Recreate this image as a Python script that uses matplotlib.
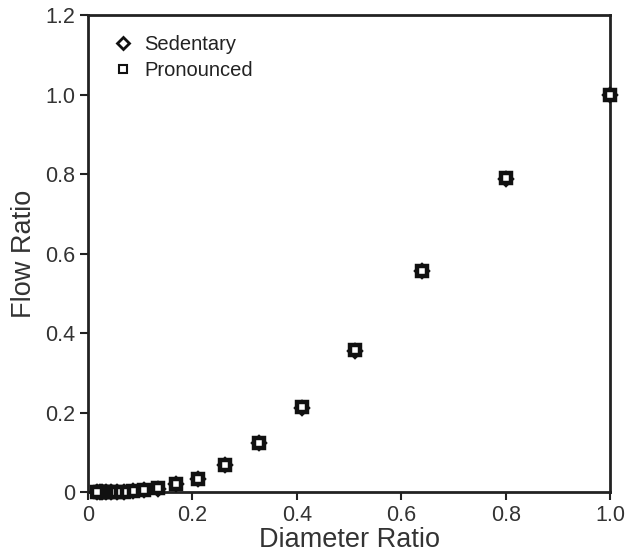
import matplotlib.pyplot as plt
from matplotlib.lines import Line2D

plt.rcParams['font.family'] = ['Liberation Sans', 'DejaVu Sans']

diam = [1.0, 0.8, 0.64, 0.512, 0.41, 0.328, 0.262, 0.21, 0.168, 0.134,
        0.107, 0.086, 0.069, 0.055, 0.044, 0.035, 0.028, 0.023, 0.018]
sedentary = [1.0, 0.788, 0.556, 0.356, 0.212, 0.123, 0.068, 0.033, 0.02, 0.008,
             0.004, 0.002, 0.001, 0.0005, 0.0003, 0.0002, 0.0001, 0.0, 0.0]
pronounced = [1.0, 0.790, 0.557, 0.357, 0.213, 0.124, 0.069, 0.034, 0.021, 0.009,
              0.005, 0.003, 0.001, 0.0005, 0.0003, 0.0002, 0.0001, 0.0, 0.0]

xticks = [0, 0.2, 0.4, 0.6, 0.8, 1.0]
xticklabels = ['0', '0.2', '0.4', '0.6', '0.8', '1.0']
yticks = [0, 0.2, 0.4, 0.6, 0.8, 1.0, 1.2]
yticklabels = ['0', '0.2', '0.4', '0.6', '0.8', '1.0', '1.2']

fig = plt.figure(figsize=(6.41, 5.56), dpi=100)
ax = fig.add_axes([0.137, 0.115, 0.815, 0.858])

ax.plot(diam, sedentary, 'D', ms=6.5, mfc='white', mec='#111111', mew=2.8,
        clip_on=False, zorder=3, label='Sedentary')
ax.plot(diam, pronounced, 's', ms=7, mfc='white', mec='#111111', mew=3.2,
        clip_on=False, zorder=4, label='Pronounced')

ax.set_xlim(0, 1.0)
ax.set_ylim(0, 1.2)
ax.set_xticks(xticks)
ax.set_xticklabels(xticklabels)
ax.set_yticks(yticks)
ax.set_yticklabels(yticklabels)
ax.tick_params(direction='out', length=6, width=1.5, labelsize=15.5, pad=3,
               labelcolor='#333333', color='#222222', top=False, right=False)

for s in ax.spines.values():
    s.set_linewidth(2)
    s.set_color('#222222')

ax.set_xlabel('Diameter Ratio', fontsize=19.5, color='#333333', labelpad=1)
ax.set_ylabel('Flow Ratio', fontsize=19.5, color='#333333', labelpad=6)

# legend markers are drawn lighter than the data markers
handles = [Line2D([], [], marker='D', ls='', ms=6, mfc='white', mec='#111111', mew=2),
           Line2D([], [], marker='s', ls='', ms=5.5, mfc='white', mec='#111111', mew=1.5)]
ax.legend(handles, ['Sedentary', 'Pronounced'], loc='upper left', frameon=False,
          fontsize=14.5, handletextpad=0.3, borderaxespad=0.6, labelspacing=0.35,
          handlelength=1.5, labelcolor='#222222')

fig.savefig('out.png', dpi=100)
